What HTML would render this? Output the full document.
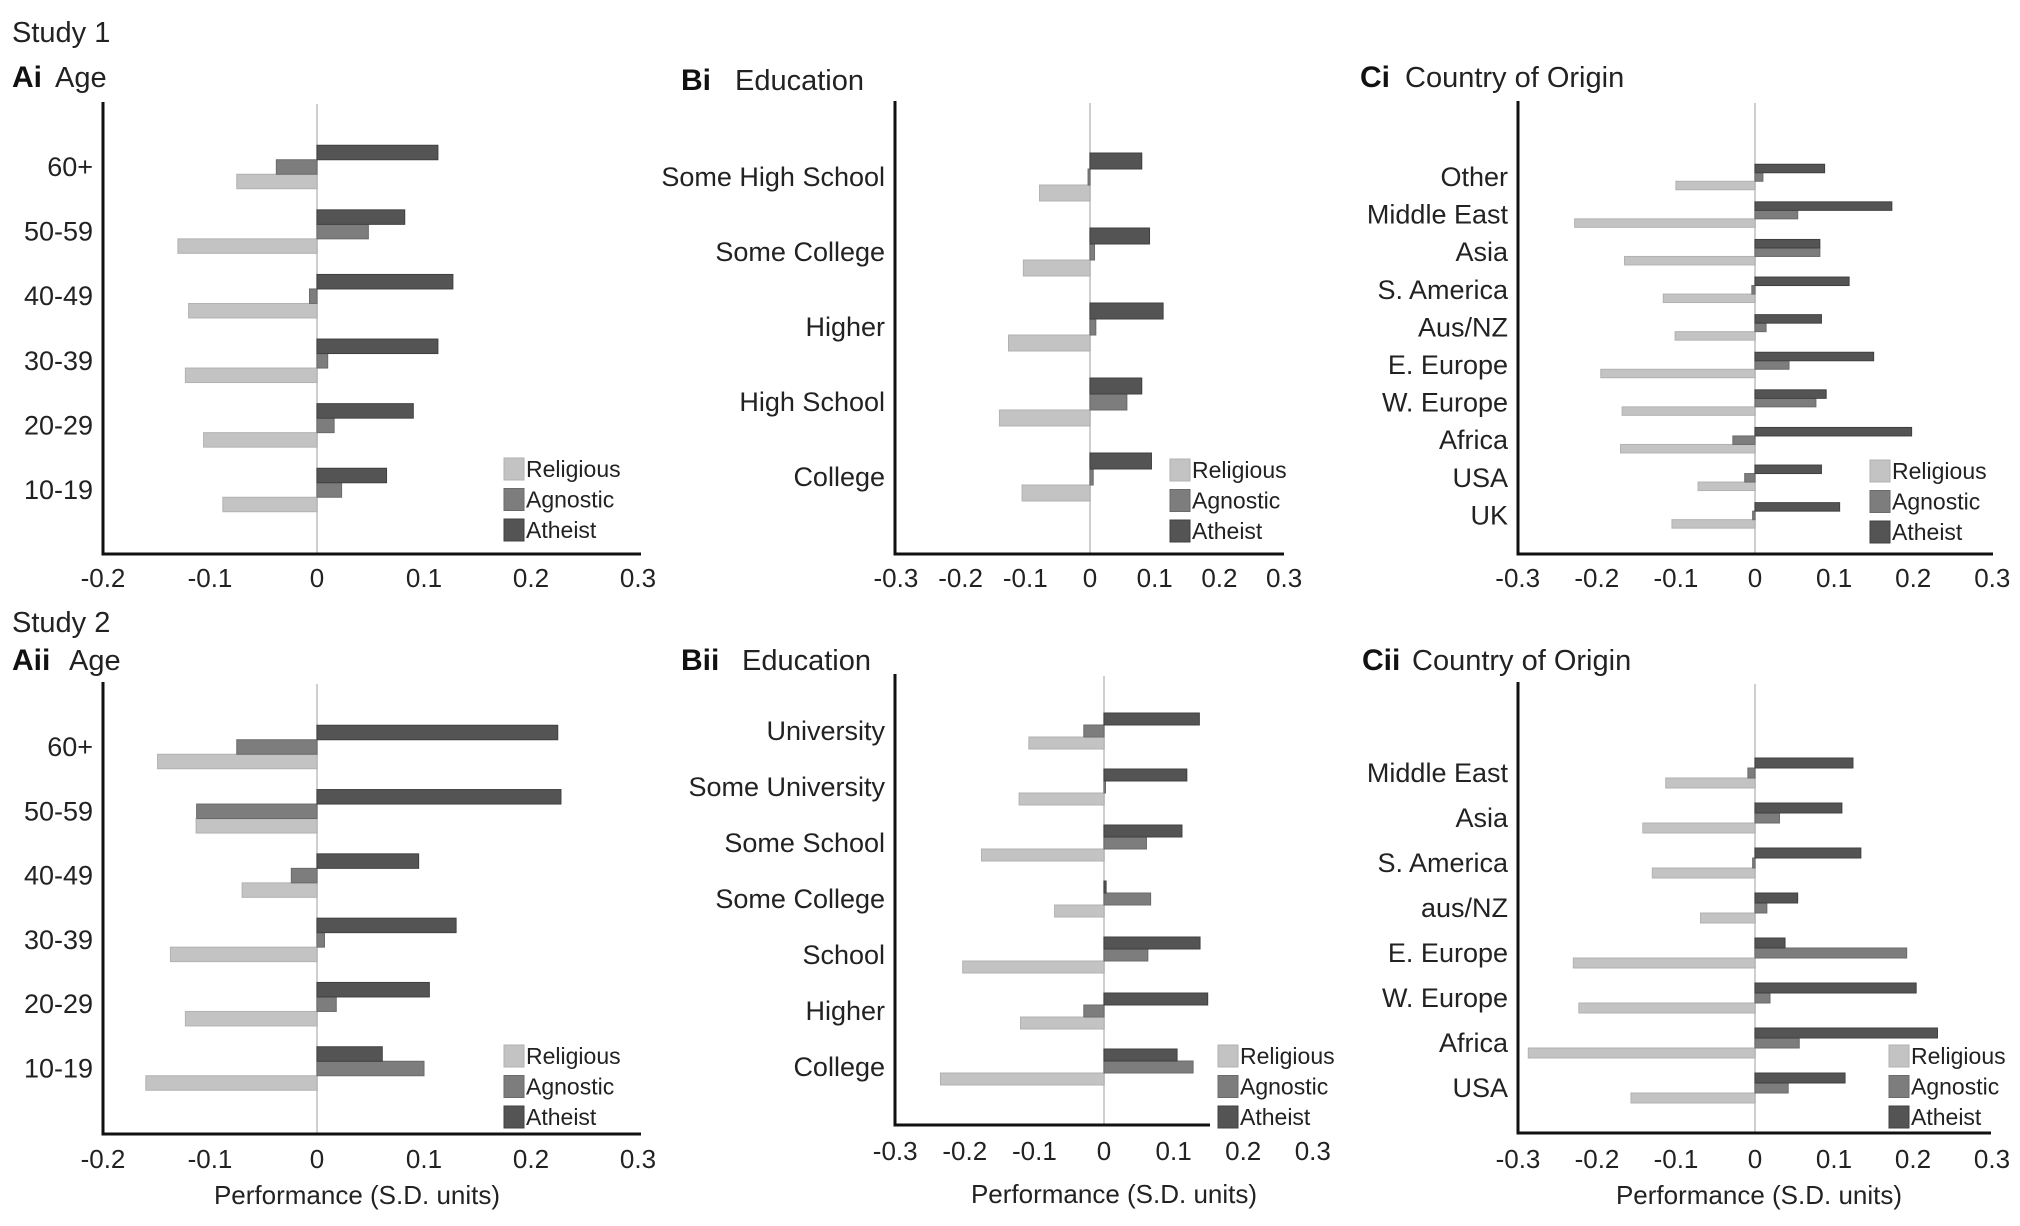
<!DOCTYPE html>
<html><head><meta charset="utf-8">
<style>
html,body{margin:0;padding:0;background:#fff;}
svg{display:block;font-family:"Liberation Sans",Arial,sans-serif;}
</style></head>
<body>
<svg id="fig" width="2020" height="1226" viewBox="0 0 2020 1226" xmlns="http://www.w3.org/2000/svg">
<text x="12" y="42" font-size="29" fill="#222">Study 1</text>
<text x="12" y="632" font-size="29" fill="#222">Study 2</text>
</svg>
<script>
// ---- data ----
const ageCats = ["60+","50-59","40-49","30-39","20-29","10-19"];
const ai_religious = [-0.075,-0.13,-0.12,-0.123,-0.106,-0.088];
const ai_agnostic  = [-0.038,0.048,-0.007,0.01,0.016,0.023];
const ai_atheist   = [0.113,0.082,0.127,0.113,0.09,0.065];

const eduCats1 = ["Some High School","Some College","Higher","High School","College"];
const bi_religious = [-0.078,-0.103,-0.126,-0.14,-0.105];
const bi_agnostic  = [-0.003,0.007,0.009,0.057,0.005];
const bi_atheist   = [0.08,0.092,0.113,0.08,0.095];

const countryCats1 = ["Other","Middle East","Asia","S. America","Aus/NZ","E. Europe","W. Europe","Africa","USA","UK"];
const ci_religious = [-0.1,-0.228,-0.165,-0.116,-0.101,-0.195,-0.168,-0.17,-0.072,-0.105];
const ci_agnostic  = [0.01,0.054,0.082,-0.004,0.014,0.043,0.077,-0.028,-0.013,-0.003];
const ci_atheist   = [0.088,0.173,0.082,0.119,0.084,0.15,0.09,0.198,0.084,0.107];

const aii_religious = [-0.149,-0.113,-0.07,-0.137,-0.123,-0.16];
const aii_agnostic  = [-0.075,-0.1125,-0.024,0.007,0.018,0.1];
const aii_atheist   = [0.225,0.228,0.095,0.13,0.105,0.061];

const eduCats2 = ["University","Some University","Some School","Some College","School","Higher","College"];
const bii_religious = [-0.108,-0.122,-0.176,-0.071,-0.203,-0.12,-0.235];
const bii_agnostic  = [-0.029,0.001,0.061,0.067,0.063,-0.029,0.128];
const bii_atheist   = [0.137,0.119,0.112,0.003,0.138,0.149,0.105];

const countryCats2 = ["Middle East","Asia","S. America","aus/NZ","E. Europe","W. Europe","Africa","USA"];
const cii_religious = [-0.113,-0.142,-0.13,-0.069,-0.23,-0.223,-0.287,-0.157];
const cii_agnostic  = [-0.009,0.031,-0.003,0.015,0.192,0.019,0.056,0.042];
const cii_atheist   = [0.124,0.11,0.134,0.054,0.038,0.204,0.231,0.114];

const ticksAge = [-0.2,-0.1,0,0.1,0.2,0.3];
const ticksWide = [-0.3,-0.2,-0.1,0,0.1,0.2,0.3];
const tickLabelsAge = ["-0.2","-0.1","0","0.1","0.2","0.3"];
const tickLabelsWide = ["-0.3","-0.2","-0.1","0","0.1","0.2","0.3"];
const seriesNames = ["Religious","Agnostic","Atheist"];

// ---- drawing ----
const NS = "http://www.w3.org/2000/svg";
const svg = document.getElementById("fig");
const fills = ["#c3c3c3","#7d7d7d","#545454"];
const strokes = ["#b2b2b2","#6a6a6a","#404040"];
function mk(tag, attrs, parent){
  const e = document.createElementNS(NS, tag);
  for (const k in attrs) e.setAttribute(k, attrs[k]);
  (parent||svg).appendChild(e);
  return e;
}
function panel(p){
  const g = mk("g", {});
  
  
  const xs = v => p.zero + v * p.per * 100;
  const step = p.step, bh = p.bh;
  const yc = i => p.cat0 + i * step;
  const t1 = mk("text", {x:p.tx, y:p.ty, "font-size":30, "font-weight":"bold", fill:"#111"}, g);
  t1.textContent = p.letter;
  
  
  const t2 = mk("text", {x:p.tx2, y:p.ty, "font-size":29, fill:"#222"}, g);
  t2.textContent = p.title;
  
  
  const zl = mk("line", {x1:xs(0), x2:xs(0), y1:p.top+2, y2:p.bottom, stroke:"#cfcfcf", "stroke-width":2}, g);
  
  
  p.series.forEach((vals, s) => {
    vals.forEach((v, i) => {
      const y = yc(i) + (1 - s) * bh - bh/2;
      const x0 = Math.min(xs(0), xs(v)), w = Math.abs(xs(v) - xs(0));
      const r = mk("rect", {x:x0, y:y, width:Math.max(w,1.5), height:bh, fill:fills[s], stroke:strokes[s], "stroke-width":1}, g);
      
      
    });
  });
  p.cats.forEach((c, i) => {
    const tl = mk("text", {x:p.axisX - 10, y:yc(i) + 9, "font-size":27, "text-anchor":"end", fill:"#222"}, g);
    tl.textContent = c;
    
    
  });
  const ya = mk("line", {x1:p.axisX, x2:p.axisX, y1:p.top, y2:p.bottom+1.5, stroke:"#111", "stroke-width":3}, g);
  
  
  const xa = mk("line", {x1:p.axisX-1.5, x2:p.right, y1:p.bottom, y2:p.bottom, stroke:"#111", "stroke-width":3}, g);
  
  
  p.ticks.forEach((tv, i) => {
    const tt = mk("text", {x:p.tzero + tv * p.tper * 100, y:p.tickY + 9, "font-size":26, "text-anchor":"middle", fill:"#222"}, g);
    tt.textContent = p.tickLabels[i];
    
    
  });
  if (p.xlabel) {
    const xl = mk("text", {x:p.xlx, y:p.xly + 9, "font-size":26, "text-anchor":"middle", fill:"#222"}, g);
    xl.textContent = "Performance (S.D. units)";
    
    
  }
  seriesNames.forEach((n, s) => {
    const ly = p.ly + s * 30.5;
    const sw = mk("rect", {x:p.lx, y:ly, width:20, height:22, fill:fills[s], stroke:strokes[s], "stroke-width":1}, g);
    
    
    const lt = mk("text", {x:p.lx + 22, y:ly + 19, "font-size":23, fill:"#222"}, g);
    lt.textContent = n;
    
    
  });
}

panel({id:"ai", letter:"Ai", title:"Age", tx:12, tx2:55, ty:87, cats:ageCats,
  series:[ai_religious, ai_agnostic, ai_atheist],
  zero:317, per:10.7, axisX:103, top:102, bottom:554, right:641, cat0:167, step:64.6, bh:14.5,
  ticks:ticksAge, tickLabels:tickLabelsAge, tzero:317, tper:10.7, tickY:578, lx:504, ly:458});
panel({id:"bi", letter:"Bi", title:"Education", tx:681, tx2:735, ty:90, cats:eduCats1,
  series:[bi_religious, bi_agnostic, bi_atheist],
  zero:1090, per:6.47, axisX:895, top:101, bottom:554, right:1284, cat0:177, step:75, bh:16,
  ticks:ticksWide, tickLabels:tickLabelsWide, tzero:1090, tper:6.47, tickY:578, lx:1170, ly:459});
panel({id:"ci", letter:"Ci", title:"Country of Origin", tx:1360, tx2:1405, ty:87, cats:countryCats1,
  series:[ci_religious, ci_agnostic, ci_atheist],
  zero:1755, per:7.91, axisX:1518, top:101, bottom:554, right:1993, cat0:177, step:37.6, bh:8.5,
  ticks:ticksWide, tickLabels:tickLabelsWide, tzero:1755, tper:7.91, tickY:578, lx:1870, ly:460});
panel({id:"aii", letter:"Aii", title:"Age", tx:12, tx2:69, ty:670, cats:ageCats,
  series:[aii_religious, aii_agnostic, aii_atheist],
  zero:317, per:10.7, axisX:103, top:682, bottom:1134, right:641, cat0:747, step:64.3, bh:14.5,
  ticks:ticksAge, tickLabels:tickLabelsAge, tzero:317, tper:10.7, tickY:1159,
  xlabel:true, xlx:357, xly:1195, lx:504, ly:1045});
panel({id:"bii", letter:"Bii", title:"Education", tx:681, tx2:742, ty:670, cats:eduCats2,
  series:[bii_religious, bii_agnostic, bii_atheist],
  zero:1104, per:6.96, axisX:895, top:674, bottom:1125, right:1210, cat0:731, step:56, bh:12,
  ticks:ticksWide, tickLabels:tickLabelsWide, tzero:1104, tper:6.96, tickY:1151,
  xlabel:true, xlx:1114, xly:1194, lx:1218, ly:1045});
panel({id:"cii", letter:"Cii", title:"Country of Origin", tx:1362, tx2:1412, ty:670, cats:countryCats2,
  series:[cii_religious, cii_agnostic, cii_atheist],
  zero:1755, per:7.9, axisX:1518, top:682, bottom:1133, right:1991, cat0:773, step:45, bh:10,
  ticks:ticksWide, tickLabels:tickLabelsWide, tzero:1755, tper:7.9, tickY:1159,
  xlabel:true, xlx:1759, xly:1195, lx:1889, ly:1045});
</script>
</body></html>
